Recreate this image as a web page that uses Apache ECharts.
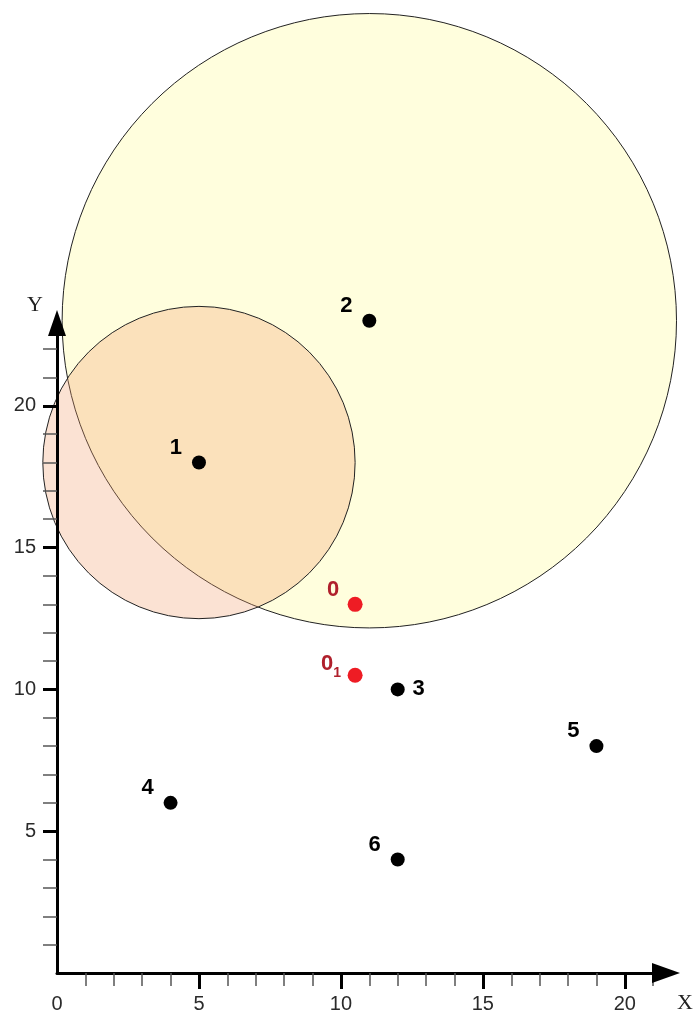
<!DOCTYPE html>
<html>
<head>
<meta charset="utf-8">
<script src="https://cdn.jsdelivr.net/npm/echarts@6/dist/echarts.min.js"></script>
<style>
html,body{margin:0;padding:0;background:#fff;}
#chart{width:696px;height:1014px;}
</style>
</head>
<body>
<div id="chart"></div>
<script>
// ---- data ----
const xMinorTicks = [1,2,3,4,6,7,8,9,11,12,13,14,16,17,18,19,21];
const xMajorTicks = [5,10,15,20];
const xTickLabels = [0,5,10,15,20];
const yMinorTicks = [1,2,3,4,6,7,8,9,11,12,13,14,16,17,18,19,21,22];
const yMajorTicks = [5,10,15,20];
const yTickLabels = [5,10,15,20];

const pointNames = ['1','2','3','4','5','6'];
const pointX = [5, 11, 12, 4, 19, 12];
const pointY = [18, 23, 10, 6, 8, 4];

const redNames = ['0','0₁'];
const redX = [10.5, 10.5];
const redY = [13, 10.5];

const circleCX = [11, 5];
const circleCY = [23, 18];
const circleR = [10.82, 5.5];

// ---- chart ----
const chart = echarts.init(document.getElementById('chart'), null, {renderer:'canvas'});
const FONT = '"Liberation Sans", Arial, sans-serif';
const SERIF = '"Liberation Serif", "Times New Roman", serif';

const labelOffsets = {'3':[21,0]};
const pointData = pointNames.map((n,i)=>({
  name:n, value:[pointX[i], pointY[i]],
  label:{offset: labelOffsets[n] || [-23,-15]}
}));
const redData = redNames.map((n,i)=>({
  name:n, value:[redX[i], redY[i]],
  label:{
    offset: i===0 ? [-22,-14] : [-24,-11],
    formatter: i===0 ? '{a|0}' : '{a|0}{s|1}'
  }
}));
const circleData = circleCX.map((c,i)=>[c, circleCY[i], circleR[i], i]);
const circleFill = ['#fffedd','rgba(243,160,110,0.3)'];

const xBase = {type:'value', min:0, max:21.45, gridIndex:0, position:'bottom', offset:0,
  splitLine:{show:false}, z:10};
const yBase = {type:'value', min:0, max:22.92, gridIndex:0, position:'left', offset:0,
  splitLine:{show:false}, z:10};

chart.setOption({
  animation:false,
  backgroundColor:'#ffffff',
  grid:{left:57, right:30, top:323, bottom:40, containLabel:false},
  xAxis:[
    Object.assign({}, xBase, {
      name:'X', nameLocation:'end', nameGap:11,
      nameTextStyle:{fontFamily:SERIF, fontSize:22, color:'#222',
        align:'left', verticalAlign:'top', padding:[19,0,0,0]},
      axisLine:{show:true, onZero:false, symbol:['none','triangle'], symbolSize:[20,28],
        lineStyle:{color:'#000', width:3}},
      axisTick:{show:true, customValues:xMinorTicks, length:13, lineStyle:{color:'#555', width:1.5}},
      axisLabel:{show:false}
    }),
    Object.assign({}, xBase, {
      axisLine:{show:false, onZero:false},
      axisTick:{show:true, customValues:xMajorTicks, length:16, lineStyle:{color:'#000', width:3}},
      axisLabel:{show:true, customValues:xTickLabels, margin:21, fontFamily:FONT, fontSize:20, color:'#2a2a2a'}
    })
  ],
  yAxis:[
    Object.assign({}, yBase, {
      name:'Y', nameLocation:'end', nameGap:18,
      nameTextStyle:{fontFamily:SERIF, fontSize:22, color:'#222',
        align:'right', verticalAlign:'middle', padding:[0,14,0,0]},
      axisLine:{show:true, onZero:false, symbol:['none','triangle'], symbolSize:[18,26],
        lineStyle:{color:'#000', width:3}},
      axisTick:{show:true, customValues:yMinorTicks, length:14, lineStyle:{color:'#555', width:1.5}},
      axisLabel:{show:false}
    }),
    Object.assign({}, yBase, {
      axisLine:{show:false, onZero:false},
      axisTick:{show:true, customValues:yMajorTicks, length:14, lineStyle:{color:'#000', width:3}},
      axisLabel:{show:true, customValues:yTickLabels, margin:21, fontFamily:FONT, fontSize:20, color:'#2a2a2a'}
    })
  ],
  series:[
    {
      type:'custom', xAxisIndex:0, yAxisIndex:0, clip:false, z:1, silent:true,
      data:circleData,
      renderItem:function(params, api){
        const c = api.coord([api.value(0), api.value(1)]);
        const r = api.size([api.value(2), 0])[0];
        const idx = api.value(3);
        return {type:'circle', shape:{cx:c[0], cy:c[1], r:r},
          style:{fill:circleFill[idx], stroke:'#222', lineWidth:1}};
      }
    },
    {
      type:'scatter', xAxisIndex:0, yAxisIndex:0, clip:false, z:20,
      symbol:'circle', symbolSize:14,
      itemStyle:{color:'#000', opacity:1},
      label:{show:true, position:'inside', formatter:'{b}', fontFamily:FONT, fontWeight:'bold',
        fontSize:22, color:'#000'},
      data:pointData
    },
    {
      type:'scatter', xAxisIndex:0, yAxisIndex:0, clip:false, z:20,
      symbol:'circle', symbolSize:15,
      itemStyle:{color:'#ee1c24', opacity:1},
      label:{show:true, position:'inside', fontFamily:FONT, fontWeight:'bold', color:'#b0202c',
        rich:{
          a:{fontFamily:FONT, fontWeight:'bold', fontSize:22, color:'#b0202c', verticalAlign:'bottom'},
          s:{fontFamily:FONT, fontWeight:'bold', fontSize:14, color:'#b0202c', verticalAlign:'bottom', padding:[0,0,-5,0]}
        }},
      data:redData
    }
  ]
});
</script>
</body>
</html>
